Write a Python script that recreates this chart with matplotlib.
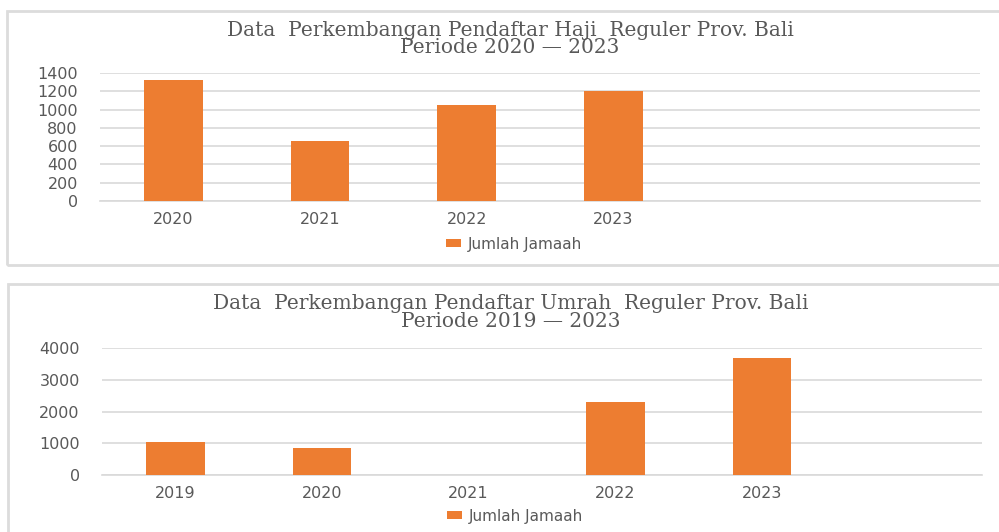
import matplotlib
matplotlib.use("Agg")
import matplotlib.pyplot as plt
from matplotlib.patches import Rectangle, Patch

# ---- data ----
haji_categories = ["2020", "2021", "2022", "2023", "", ""]
haji_values = [1320, 660, 1050, 1200, 0, 0]
haji_yticks = [0, 200, 400, 600, 800, 1000, 1200, 1400]
haji_title = "Data  Perkembangan Pendaftar Haji  Reguler Prov. Bali\nPeriode 2020 \u2014 2023"

umrah_categories = ["2019", "2020", "2021", "2022", "2023", ""]
umrah_values = [1050, 850, 0, 2300, 3690, 0]
umrah_yticks = [0, 1000, 2000, 3000, 4000]
umrah_title = "Data  Perkembangan Pendaftar Umrah  Reguler Prov. Bali\nPeriode 2019 \u2014 2023"

series_name = "Jumlah Jamaah"

# ---- style ----
W, H = 999, 532
ORANGE = "#ED7D31"
GRID = "#D9D9D9"
TXT = "#595959"
BOX = "#DCDCDC"
TICK_FS = 11.5

fig = plt.figure(figsize=(W / 100, H / 100), dpi=100)
fig.patch.set_facecolor("white")


def px_axes(x0, x1, ytop, ybot):
    return fig.add_axes([x0 / W, 1 - ybot / H, (x1 - x0) / W, (ybot - ytop) / H])


def box(x0, y0, x1, y1):
    r = Rectangle((x0 / W, 1 - y1 / H), (x1 - x0) / W, (y1 - y0) / H,
                  transform=fig.transFigure, fill=False, edgecolor=BOX,
                  linewidth=2.0, zorder=0)
    fig.patches.append(r)


def draw(ax, cats, vals, yticks, ymax):
    x = list(range(len(cats)))
    ax.bar(x, vals, width=0.4, color=ORANGE, zorder=3)
    ax.set_xlim(-0.5, len(cats) - 0.5)
    ax.set_ylim(0, ymax)
    ax.set_yticks(yticks)
    ax.set_xticks(x)
    ax.set_xticklabels(cats)
    ax.grid(axis="y", color=GRID, linewidth=1.2, zorder=0)
    for s in ["top", "right", "left"]:
        ax.spines[s].set_visible(False)
    ax.spines["bottom"].set_color(GRID)
    ax.spines["bottom"].set_linewidth(1.2)
    ax.tick_params(axis="both", length=0, colors=TXT, labelsize=TICK_FS)
    ax.tick_params(axis="y", pad=16)
    ax.tick_params(axis="x", pad=8)
    for lab in ax.get_xticklabels() + ax.get_yticklabels():
        lab.set_family("DejaVu Sans")
    ax.set_facecolor("none")


# boxes
box(6.5, 11, 1005, 265)
box(8, 284, 1005, 545)

# chart 1
ax1 = px_axes(100, 980, 73, 201)
draw(ax1, haji_categories, haji_values, haji_yticks, 1400)
fig.text(510 / W, 1 - 39 / H, haji_title, ha="center", va="center",
         family="DejaVu Serif", fontsize=14.5, color=TXT, linespacing=0.88)
fig.legend(handles=[Patch(facecolor=ORANGE, label=series_name)],
           loc="center", bbox_to_anchor=(514 / W, 1 - 244 / H), frameon=False,
           labelcolor=TXT, handlelength=1.0, handleheight=0.45,
           handletextpad=0.4, prop={"family": "DejaVu Sans", "size": 11})

# chart 2
ax2 = px_axes(102, 982, 347.7, 475.3)
draw(ax2, umrah_categories, umrah_values, umrah_yticks, 4000)
fig.text(511 / W, 1 - 312.5 / H, umrah_title, ha="center", va="center",
         family="DejaVu Serif", fontsize=14.5, color=TXT, linespacing=0.88)
fig.legend(handles=[Patch(facecolor=ORANGE, label=series_name)],
           loc="center", bbox_to_anchor=(515 / W, 1 - 516 / H), frameon=False,
           labelcolor=TXT, handlelength=1.0, handleheight=0.45,
           handletextpad=0.4, prop={"family": "DejaVu Sans", "size": 11})

fig.savefig("out.png", dpi=100)
